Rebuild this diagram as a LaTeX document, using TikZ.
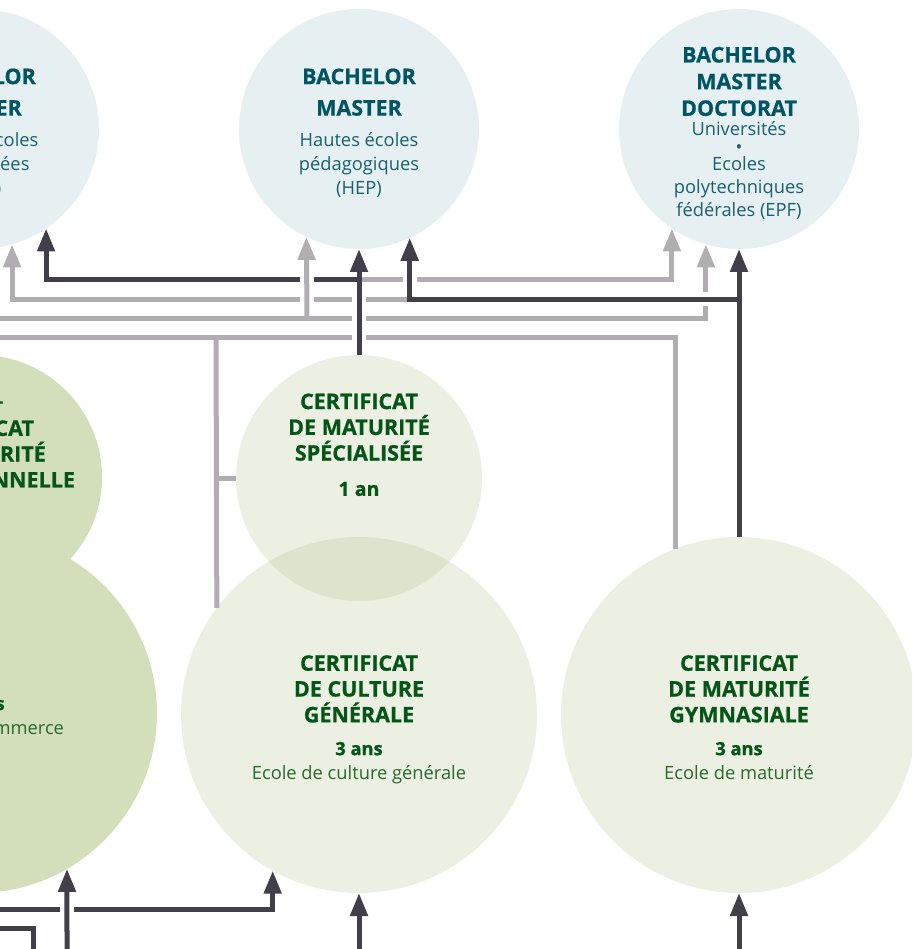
\documentclass[tikz,border=0pt]{standalone}
\usepackage{fontspec}
\setmainfont{Open Sans}[BoldFeatures={FakeBold=0.8}]
\usetikzlibrary{arrows.meta}

\definecolor{hesbg}{RGB}{230,240,243}
\definecolor{lightgreen}{RGB}{236,240,226}
\definecolor{darkgreen}{RGB}{211,223,186}
\definecolor{overlapgreen}{RGB}{220,228,206}
\definecolor{tealtext}{RGB}{0,85,100}
\definecolor{tealsub}{RGB}{25,95,110}
\definecolor{greentext}{RGB}{5,85,25}
\definecolor{greensub}{RGB}{40,105,45}
\definecolor{darkarrow}{RGB}{66,63,74}
\definecolor{grayarrow}{RGB}{177,173,178}

\newcommand{\duree}[1]{{\bfseries\color{greentext}#1}}

\tikzstyle{topcircle} = [circle, minimum size=240pt, inner sep=0pt, outer sep=0pt, fill=hesbg]
\tikzstyle{certcircle} = [circle, inner sep=0pt, outer sep=0pt, fill=lightgreen]
\tikzstyle{procircle} = [circle, inner sep=0pt, outer sep=0pt, fill=darkgreen]
\tikzstyle{headtop} = [anchor=north, align=center, inner sep=0pt, text=tealtext, font=\bfseries\fontsize{21.5}{31.5}\selectfont]
\tikzstyle{subtop} = [anchor=north, align=center, inner sep=0pt, text=tealsub, font=\fontsize{18.3}{23.8}\selectfont]
\tikzstyle{headgreen} = [anchor=north, align=center, inner sep=0pt, text=greentext, font=\bfseries\fontsize{21.5}{25.8}\selectfont]
\tikzstyle{subgreen} = [anchor=north, align=center, inner sep=0pt, text=greensub, font=\fontsize{18.3}{24.5}\selectfont]
\tikzstyle{darkline} = [line width=5pt, draw=darkarrow, -{Triangle[width=17pt,length=23pt]}]
\tikzstyle{grayline} = [line width=5pt, draw=grayarrow, -{Triangle[width=17pt,length=23pt]}]
\tikzstyle{gap} = [line width=14pt, draw=white]

\begin{document}
\begin{tikzpicture}[x=1pt, y=-1pt]
\useasboundingbox (0,0) rectangle (912,949);
\clip (0,0) rectangle (912,949);

% hautes ecoles
\node (hes) [topcircle] at (-21,129) {};
\node (hep) [topcircle] at (359,129) {};
\node (uni) [topcircle] at (739,129) {};

% certificats
\node (cfcmp) [procircle, minimum size=244pt] at (-20,477) {};
\node (com) [procircle, minimum size=360pt] at (-23,713) {};
\node (ecg) [certcircle, minimum size=356pt] at (359,715) {};
\node (cms) [certcircle, minimum size=246pt] at (359,478) {};
\node (mg) [certcircle, minimum size=356pt] at (739,715) {};
\begin{scope}
\clip (cms.center) circle (123pt);
\fill[overlapgreen] (ecg.center) circle (178pt);
\end{scope}

% texts
\node (heshead) [headtop] at (-21,68.3) {BACHELOR\\MASTER};
\node (hessub) [subtop] at (-21,132.7) {Hautes écoles\\spécialisées\\(HES)};
\node (hephead) [headtop] at (359,68.3) {BACHELOR\\MASTER};
\node (hepsub) [subtop] at (359,132.7) {Hautes écoles\\pédagogiques\\(HEP)};
\node (unihead) [headtop, font=\bfseries\fontsize{21.5}{26.7}\selectfont] at (739,46.7) {BACHELOR\\MASTER\\DOCTORAT};
\node (unisub) [subtop, font=\fontsize{18.3}{22.8}\selectfont] at (739,121.7) {Universités\\[-5.3pt]\textbullet\\[-5.3pt]Ecoles\\polytechniques\\fédérales (EPF)};

\node (cfcmphead) [headgreen] at (-25,394.3) {CFC +\\CERTIFICAT\\DE MATURITÉ\\PROFESSIONNELLE};
\node (comsub) [subgreen] at (-19,696.7) {\duree{3 ans}\\Ecole de commerce};
\node (cmshead) [headgreen] at (359,393.3) {CERTIFICAT\\DE MATURITÉ\\SPÉCIALISÉE};
\node (cmssub) [subgreen, font=\fontsize{19.5}{24.5}\selectfont] at (359,481.7) {\duree{1 an}};
\node (ecghead) [headgreen] at (359,655) {CERTIFICAT\\DE CULTURE\\GÉNÉRALE};
\node (ecgsub) [subgreen] at (359,741.7) {\duree{3 ans}\\Ecole de culture générale};
\node (mghead) [headgreen] at (739,655) {CERTIFICAT\\DE MATURITÉ\\GYMNASIALE};
\node (mgsub) [subgreen] at (739,741.7) {\duree{3 ans}\\Ecole de maturité};

% line ends and junctions
\coordinate (j280) at (359,280);
\coordinate (j299) at (739,299);
\coordinate (k299) at (410,299);
\coordinate (t307) at (307,318);
\coordinate (t216) at (216,337);
\coordinate (b216) at (216,478);
\coordinate (w318) at (0,318);
\coordinate (w337) at (0,337);
\coordinate (w909) at (0,909);
\coordinate (w928) at (0,928);
\coordinate (s33) at (33,949);
\coordinate (s67) at (67,949);
\coordinate (s359) at (359,949);
\coordinate (s739) at (739,949);

% grey links
\draw [grayline] (j280) -| (uni.236.1);
\draw [grayline] (k299) -| (hes.286.5);
\draw [grayline] (w318) -| (uni.254);
\draw [grayline, -] (w337) -| (mg.111.8);
\draw [grayline, -] (t216) -- (ecg.143.45);
\draw [grayline, -] (b216) -- (cms.west);
\draw [darkline] (j280) -| (hes.304.5);
\draw [gap] (307,272) -- (307,306);
\draw [grayline] (t307) -- (hep.244.3);

% dark links
\draw [gap] (359,288) -- (359,346);
\draw [gap] (410,262) -- (410,292);
\draw [gap] (418,299) -- (731,299);
\draw [darkline] (cms.north) -- (hep.south);
\draw [darkline] (mg.north) -- (uni.south);
\draw [darkline] (j299) -| (hep.295.2);

% from below
\draw [darkline] (w909) -| (ecg.241.5);
\draw [gap] (67,900) -- (67,918);
\draw [darkline] (s67) -- (com.300);
\draw [darkline, -] (w928) -| (s33);
\draw [darkline] (s359) -- (ecg.south);
\draw [darkline] (s739) -- (mg.south);
\end{tikzpicture}
\end{document}
